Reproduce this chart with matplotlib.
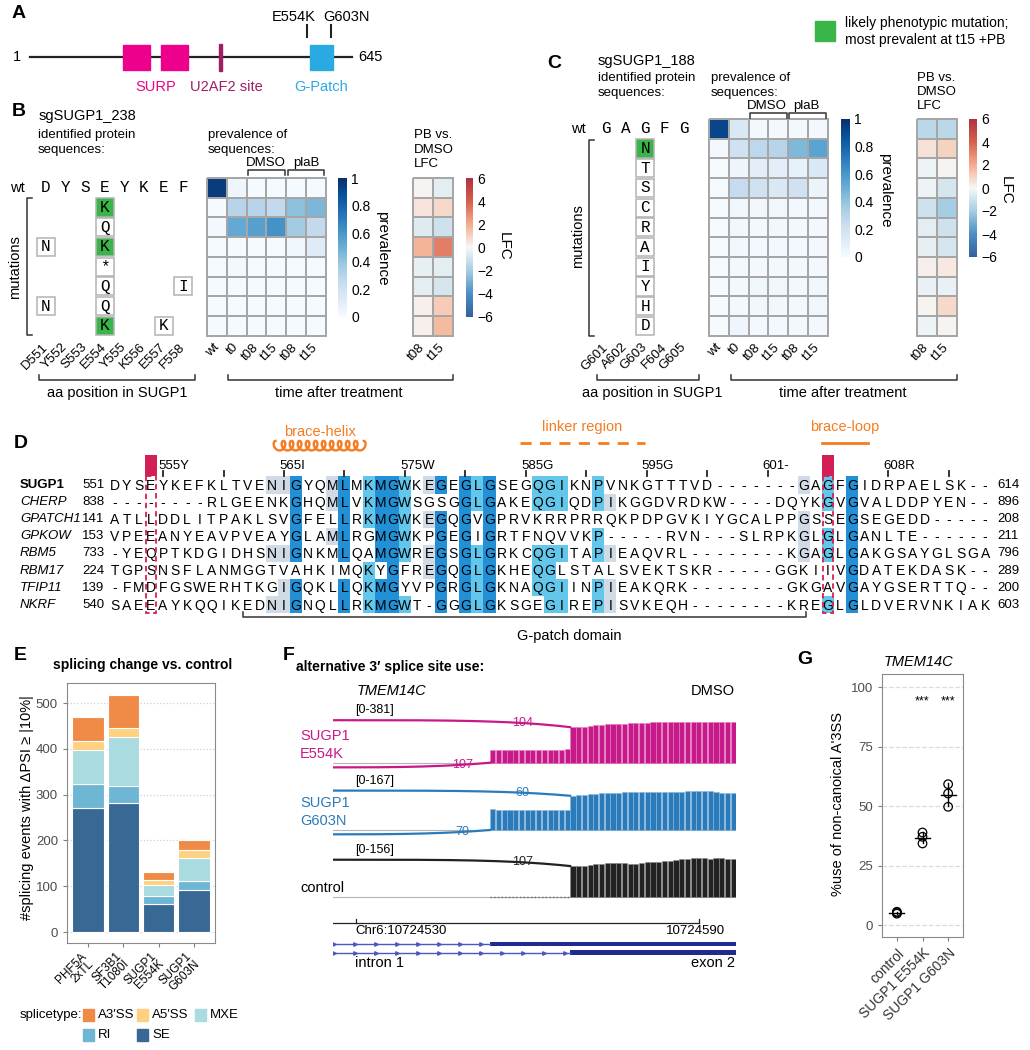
import numpy as np
import matplotlib.pyplot as plt
from matplotlib.patches import Rectangle
from matplotlib.colors import LinearSegmentedColormap, Normalize
from matplotlib.cm import ScalarMappable

plt.rcParams['font.family'] = ['Liberation Sans', 'DejaVu Sans']

# ------------------------------------------------------------------ data
# A: SUGP1 protein map (aa positions)
prot_len = 645
surp_domains = [(187, 241), (263, 317)]
u2af2_site = (379, 385)
gpatch_domain = (561, 607)
mut_sites = [554, 603]
mut_names = ['E554K', 'G603N']

# B: sgSUGP1_238
b_wt = list('DYSEYKEF')
b_pos = ['D551', 'Y552', 'S553', 'E554', 'Y555', 'K556', 'E557', 'F558']
b_mut = [{3: 'K'}, {3: 'Q'}, {0: 'N', 3: 'K'}, {3: '*'}, {3: 'Q', 7: 'I'},
         {0: 'N', 3: 'Q'}, {3: 'K', 6: 'K'}]
b_green = [(0, 3), (2, 3), (6, 3)]
times = ['wt', 't0', 't08', 't15', 't08', 't15']
lfc_times = ['t08', 't15']
b_prev = np.array([
    [0.95, 0.05, 0.01, 0.01, 0.01, 0.01],
    [0.01, 0.30, 0.30, 0.26, 0.42, 0.46],
    [0.02, 0.52, 0.56, 0.62, 0.36, 0.26],
    [0.01, 0.01, 0.01, 0.01, 0.04, 0.12],
    [0.01, 0.02, 0.01, 0.01, 0.01, 0.01],
    [0.01, 0.01, 0.01, 0.01, 0.01, 0.01],
    [0.01, 0.01, 0.01, 0.01, 0.01, 0.01],
    [0.01, 0.01, 0.01, 0.01, 0.01, 0.01]])
b_lfc = np.array([[0.1, -0.5], [0.5, 0.8], [-0.6, -1.0], [1.8, 3.2],
                  [-0.4, -0.5], [-0.5, -0.8], [0.2, 1.2], [0.2, 1.6]])

# C: sgSUGP1_188
c_wt = list('GAGFG')
c_pos = ['G601', 'A602', 'G603', 'F604', 'G605']
c_mut_col = 2
c_mut = list('NTSCRAIYHD')
c_green = [(0, 2)]
c_prev = np.array([
    [0.92, 0.15, 0.02, 0.02, 0.02, 0.02],
    [0.02, 0.20, 0.28, 0.30, 0.45, 0.55],
    [0.01, 0.05, 0.10, 0.10, 0.08, 0.15],
    [0.01, 0.25, 0.20, 0.15, 0.20, 0.06],
    [0.01, 0.04, 0.03, 0.04, 0.02, 0.02],
    [0.01, 0.03, 0.02, 0.03, 0.02, 0.02],
    [0.01, 0.03, 0.02, 0.02, 0.02, 0.02],
    [0.01, 0.02, 0.02, 0.02, 0.02, 0.02],
    [0.01, 0.02, 0.04, 0.04, 0.02, 0.04],
    [0.01, 0.02, 0.03, 0.03, 0.02, 0.04],
    [0.01, 0.05, 0.02, 0.02, 0.02, 0.02]])
c_lfc = np.array([[-1.5, -1.5], [0.6, 1.0], [-0.2, 0.1], [-0.2, -0.8],
                  [-1.0, -2.0], [-0.5, -1.0], [-0.4, -0.8], [0.2, 0.4],
                  [-0.3, -0.3], [0.1, 0.8], [-0.2, 0.1]])

# D: G-patch alignment
aln_names = ['SUGP1', 'CHERP', 'GPATCH1', 'GPKOW', 'RBM5', 'RBM17', 'TFIP11', 'NKRF']
aln_start = [551, 838, 141, 153, 733, 224, 139, 540]
aln_end = [614, 896, 208, 211, 796, 289, 200, 603]
aln_seqs = [
    'DYSEYKEFKLTVENIGYQMLMKMGWKEGEGLGSEGQGIKNPVNKGTTTVD-------GAGFGIDRPAELSK--',
    '--------RLGEENKGHQMLVKMGWSGSGGLGAKEQGIQDPIKGGDVRDKW----DQYKGVGVALDDPYEN--',
    'ATLLDDLITPAKLSVGFELLRKMGWKEGQGVGPRVKRRPRRQKPDPGVKIYGCALPPGSSEGSEGEDD-----',
    'VPEEANYEAVPVEAYGLAMLRGMGWKPGEGIGRTFNQVVKP-----RVN---SLRPKGLGLGANLTE------',
    '-YEQPTKDGIDHSNIGNKMLQAMGWREGSGLGRKCQGITAPIEAQVRL--------KGAGLGAKGSAYGLSGA',
    'TGPSNSFLANMGGTVAHKIMQKYGFREGQGLGKHEQGLSTALSVEKTSKR-----GGKIIVGDATEKDASK--',
    '-FMDFGSWERHTKGIGQKLLQKMGYVPGRGLGKNAQGIINPIEAKQRK--------GKGAVGAYGSERTTQ--',
    'SAEEAYKQQIKEDNIGNQLLRKMGWT-GGGLGKSGEGIREPISVKEQH--------KREGLGLDVERVNKIAK']
ruler_cols = [5, 15, 25, 35, 45, 55, 65]
ruler_labels = ['555Y', '565I', '575W', '585G', '595G', '601-', '608R']
minor_cols = [10, 20, 30, 40, 50, 60, 70]
aln_dark = {16: [0, 1, 2, 3, 4, 6, 7], 20: [0, 1, 2, 3, 4, 6, 7],
            23: [0, 1, 2, 3, 4, 6, 7], 24: list(range(8)),
            28: [0, 2, 3, 4, 5, 6, 7], 30: list(range(8)), 32: list(range(8)),
            62: list(range(8))}
aln_mid = {22: [0, 1, 2, 5, 6, 7], 25: [0, 1, 2, 3, 4, 7], 31: [0, 1, 4, 5, 6, 7],
           36: [0, 1, 4, 5, 6], 37: [0, 1, 4, 5, 6, 7], 38: [0, 1, 4, 6, 7],
           41: [0, 1, 3, 4, 6, 7], 60: [0, 1, 3, 4, 7]}
aln_grey = {14: [0, 4, 7], 15: [0, 4, 6, 7], 19: [0, 1, 3], 27: [0, 2, 4, 5],
            42: [1, 4, 6, 7], 58: [0, 2, 3, 4]}
aln_mut_cols = [4, 60]

# E: splicing events
e_groups = ['PHF5A\n2xTL', 'SF3B1\nT1080I', 'SUGP1\nE554K', 'SUGP1\nG603N']
e_se = [272, 282, 62, 92]
e_ri = [52, 36, 16, 20]
e_mxe = [74, 108, 25, 49]
e_a5 = [19, 19, 10, 18]
e_a3 = [53, 72, 19, 21]
e_types = ['SE', 'RI', 'MXE', 'A5\u2032SS', 'A3\u2032SS']
e_colors = ['#386894', '#6db7d5', '#a9dbe0', '#fdd17e', '#f08b47']

# F: sashimi of TMEM14C
reg_start, reg_end = 10724526, 10724596.5
alt_site, can_site = 10724554, 10724568
cov_pos = np.arange(alt_site, 10724597)
cov_e554k = [100, 100, 101, 101, 102, 103, 103, 104, 104, 105, 105, 106, 107, 108,
             290, 292, 295, 300, 305, 308, 312, 315, 316, 318, 320, 322, 325, 326,
             328, 330, 332, 334, 334, 334, 333, 332, 332, 330, 330, 330, 330, 330, 330]
cov_g603n = [82, 78, 78, 78, 78, 78, 78, 78, 78, 78, 78, 78, 78, 78,
             132, 134, 136, 138, 140, 141, 142, 143, 144, 145, 145, 146, 146, 147,
             147, 147, 147, 147, 148, 148, 149, 149, 150, 152, 150, 146, 143, 143, 143]
cov_ctrl = [0, 0, 0, 0, 0, 0, 0, 0, 0, 0, 0, 0, 0, 0,
            118, 118, 119, 121, 124, 127, 130, 131, 131, 128, 126, 127, 130, 133,
            134, 135, 136, 138, 141, 144, 146, 147, 147, 147, 146, 148, 147, 144, 146]
track_range = [381, 167, 156]
junc_canon = [104, 60, 107]
junc_alt = [107, 70, 0]
track_names = ['SUGP1\nE554K', 'SUGP1\nG603N', 'control']
ruler_ticks = [10724530, 10724590]

# G: % non-canonical A3'SS
g_groups = ['control', 'SUGP1 E554K', 'SUGP1 G603N']
g_vals = [[5.3, 4.8, 5.6], [38.9, 37.1, 34.3], [59.2, 55.3, 49.7]]
g_signif = ['', '***', '***']

# ------------------------------------------------------------------ layout
W, H = 1030, 1050
fig = plt.figure(figsize=(W / 100, H / 100), dpi=100)


def px_ax(x0, y0, x1, y1):
    return fig.add_axes([x0 / W, 1 - y1 / H, (x1 - x0) / W, (y1 - y0) / H])


ov = px_ax(0, 0, W, H)
ov.set_xlim(0, W)
ov.set_ylim(H, 0)
ov.axis('off')
ov.set_zorder(10)
ov.patch.set_visible(False)

GREEN = '#3ab54a'
ORANGE = '#f57c20'
MAG = '#c8198a'
BLUE = '#2b7bba'
LK = '#333333'


def bracket_h(x0, x1, y, d):
    ov.plot([x0, x0, x1, x1], [y + d, y, y, y + d], color=LK, lw=1.1)


def bracket_v(x, y0, y1, d):
    ov.plot([x + d, x, x, x + d], [y0, y0, y1, y1], color=LK, lw=1.1)


def panel_letter(x, y, s):
    ov.text(x, y, s, fontsize=14, fontweight='bold', va='center', ha='left')


# ---------------- A
ax_a = px_ax(0, 0, 520, 100)
ax_a.set_xlim(1 - 60, 1 + 980)
ax_a.set_ylim(100, 0)
ax_a.axis('off')
ax_a.plot([1, prot_len], [57, 57], color='#222222', lw=1.6, zorder=1)
for a0, a1 in surp_domains:
    ax_a.add_patch(Rectangle((a0, 45), a1 - a0, 25, color='#ec008c', zorder=2))
ax_a.add_patch(Rectangle((u2af2_site[0], 44), u2af2_site[1] - u2af2_site[0], 27,
                         color='#9e1f63', zorder=2))
ax_a.add_patch(Rectangle((gpatch_domain[0], 45), gpatch_domain[1] - gpatch_domain[0], 25,
                         color='#29abe2', zorder=2))
for s in mut_sites:
    ax_a.plot([s, s], [25, 37], color='#222222', lw=1.5)
ax_a.text(mut_sites[0] + 18, 17, mut_names[0], ha='right', va='center', fontsize=10.5)
ax_a.text(mut_sites[1] - 16, 17, mut_names[1], ha='left', va='center', fontsize=10.5)
ax_a.text(1 - 18, 57, '1', ha='right', va='center', fontsize=10.5)
ax_a.text(prot_len + 12, 57, str(prot_len), ha='left', va='center', fontsize=10.5)
ax_a.text((surp_domains[0][0] + surp_domains[1][1]) / 2, 87, 'SURP', color='#ec008c',
          ha='center', va='center', fontsize=10.5)
ax_a.text(sum(u2af2_site) / 2 + 12, 87, 'U2AF2 site', color='#9e1f63',
          ha='center', va='center', fontsize=10.5)
ax_a.text(sum(gpatch_domain) / 2, 87, 'G-Patch', color='#29abe2',
          ha='center', va='center', fontsize=10.5)
panel_letter(12, 14, 'A')

# legend for green
ov.add_patch(Rectangle((815, 21), 20, 20, color=GREEN))
ov.text(845, 23, 'likely phenotypic mutation;', va='center', fontsize=10)
ov.text(845, 40, 'most prevalent at t15 +PB', va='center', fontsize=10)

# ---------------- heatmap helpers
blues = plt.get_cmap('Blues')
lfc_cmap = LinearSegmentedColormap.from_list(
    'lfc', ['#35609f', '#4b8ec4', '#a5cde3', '#f7f7f7', '#f5ad8d', '#d6604d', '#b2303f'])


def heat(ax, data, cmap, vmin, vmax, labels):
    nr, nc = data.shape
    m = ax.pcolormesh(np.arange(nc + 1) - 0.5, np.arange(nr + 1) - 0.5, data, cmap=cmap,
                      vmin=vmin, vmax=vmax, edgecolors='#a6a6a6', linewidth=1.3)
    m.set_clip_on(False)
    ax.set_xlim(-0.5, nc - 0.5)
    ax.set_ylim(nr - 0.5, -0.5)
    ax.set_xticks(range(nc))
    ax.set_xticklabels(labels, rotation=45, ha='right', va='center',
                       rotation_mode='anchor', fontsize=9.5)
    ax.set_yticks([])
    ax.tick_params(length=0, pad=7)
    for sp in ax.spines.values():
        sp.set_visible(False)


def cbar(cax, cmap, vmin, vmax, ticks, labels):
    cb = fig.colorbar(ScalarMappable(Normalize(vmin, vmax), cmap), cax=cax, ticks=ticks)
    cb.outline.set_visible(False)
    cb.ax.tick_params(length=0, labelsize=10, pad=3)
    cb.ax.set_yticklabels(labels)


def seq_grid(ax, wt, pos, muts, green):
    n = len(wt)
    ax.set_xlim(-0.5, n - 0.5)
    ax.set_ylim(len(muts) + 0.5, -0.5)
    for i, aa in enumerate(wt):
        ax.text(i, 0, aa, ha='center', va='center', fontsize=11.5, family='Liberation Mono')
    for j, row in enumerate(muts):
        for i, aa in row.items():
            fc = GREEN if (j, i) in green else 'white'
            ax.add_patch(Rectangle((i - 0.46, j + 1 - 0.46), 0.92, 0.92, facecolor=fc,
                                   edgecolor='#b3b3b3', lw=1.1))
            ax.text(i, j + 1, aa, ha='center', va='center', fontsize=11.5,
                    family='Liberation Mono')
    ax.set_xticks(range(n))
    ax.set_xticklabels(pos, rotation=45, ha='right', va='center',
                       rotation_mode='anchor', fontsize=9.5)
    ax.set_yticks([])
    ax.tick_params(length=0, pad=7)
    for sp in ax.spines.values():
        sp.set_visible(False)
    ax.patch.set_visible(False)


prev_ticks = [0, 0.2, 0.4, 0.6, 0.8, 1]
prev_labels = ['0', '0.2', '0.4', '0.6', '0.8', '1']
lfc_ticks = [-6, -4, -2, 0, 2, 4, 6]
lfc_labels = ['\u22126', '\u22124', '\u22122', '0', '2', '4', '6']

# ---------------- B
panel_letter(12, 112, 'B')
ov.text(39, 116, 'sgSUGP1_238', fontsize=10.5, va='center')
ov.text(38, 135, 'identified protein', fontsize=9.5, va='center')
ov.text(38, 150, 'sequences:', fontsize=9.5, va='center')
ov.text(208, 135, 'prevalence of', fontsize=9.5, va='center')
ov.text(208, 150, 'sequences:', fontsize=9.5, va='center')
ov.text(414, 135, 'PB vs.', fontsize=9.5, va='center')
ov.text(414, 150, 'DMSO', fontsize=9.5, va='center')
ov.text(414, 164, 'LFC', fontsize=9.5, va='center')
ov.text(17, 187.5, 'wt', fontsize=10.5, ha='center', va='center')

seq_grid(px_ax(36.2, 178, 193, 335.6), b_wt, b_pos, b_mut, b_green)
heat(px_ax(207, 178, 325.5, 335.6), b_prev, blues, 0, 1, times)
heat(px_ax(413, 178, 452.5, 335.6), b_lfc, lfc_cmap, -6, 6, lfc_times)
cbar(px_ax(338, 178, 347, 317), blues, 0, 1, prev_ticks, prev_labels)
cbar(px_ax(466, 178, 473, 317), lfc_cmap, -6, 6, lfc_ticks, lfc_labels)
ov.text(382, 248, 'prevalence', rotation=270, ha='center', va='center', fontsize=11)
ov.text(504, 246, 'LFC', rotation=270, ha='center', va='center', fontsize=11)
bracket_h(248, 285, 170, 5)
bracket_h(288, 324, 170, 5)
ov.text(266, 163, 'DMSO', ha='center', va='center', fontsize=9.5)
ov.text(306, 163, 'plaB', ha='center', va='center', fontsize=9.5)
bracket_v(27, 198, 335, 5)
ov.text(15, 267, 'mutations', rotation=90, ha='center', va='center', fontsize=10.5)
bracket_h(39, 195, 380, -5)
bracket_h(228, 453, 380, -5)
ov.text(117, 393, 'aa position in SUGP1', ha='center', va='center', fontsize=10.5)
ov.text(339, 393, 'time after treatment', ha='center', va='center', fontsize=10.5)

# ---------------- C
panel_letter(547, 63, 'C')
ov.text(598, 61, 'sgSUGP1_188', fontsize=10.5, va='center')
ov.text(598, 78, 'identified protein', fontsize=9.5, va='center')
ov.text(598, 93, 'sequences:', fontsize=9.5, va='center')
ov.text(711, 78, 'prevalence of', fontsize=9.5, va='center')
ov.text(711, 93, 'sequences:', fontsize=9.5, va='center')
ov.text(917, 78, 'PB vs.', fontsize=9.5, va='center')
ov.text(917, 92, 'DMSO', fontsize=9.5, va='center')
ov.text(917, 106, 'LFC', fontsize=9.5, va='center')
ov.text(578, 129, 'wt', fontsize=10.5, ha='center', va='center')

c_mut_rows = [{c_mut_col: aa} for aa in c_mut]
seq_grid(px_ax(596.2, 119, 694.2, 335.7), c_wt, c_pos, c_mut_rows, c_green)
heat(px_ax(709, 119, 827.5, 335.7), c_prev, blues, 0, 1, times)
heat(px_ax(917, 119, 956.5, 335.7), c_lfc, lfc_cmap, -6, 6, lfc_times)
cbar(px_ax(841, 119, 850, 257), blues, 0, 1, prev_ticks, prev_labels)
cbar(px_ax(969, 119, 977, 257), lfc_cmap, -6, 6, lfc_ticks, lfc_labels)
ov.text(885, 190, 'prevalence', rotation=270, ha='center', va='center', fontsize=11)
ov.text(1006, 190, 'LFC', rotation=270, ha='center', va='center', fontsize=11)
bracket_h(750, 787, 113, 5)
bracket_h(789, 826, 113, 5)
ov.text(767, 106, 'DMSO', ha='center', va='center', fontsize=9.5)
ov.text(806, 106, 'plaB', ha='center', va='center', fontsize=9.5)
bracket_v(589, 140, 336, 5)
ov.text(578, 236, 'mutations', rotation=90, ha='center', va='center', fontsize=10.5)
bracket_h(597, 699, 380, -5)
bracket_h(731, 957, 380, -5)
ov.text(652, 393, 'aa position in SUGP1', ha='center', va='center', fontsize=10.5)
ov.text(843, 393, 'time after treatment', ha='center', va='center', fontsize=10.5)

# ---------------- D
panel_letter(14, 444, 'D')
COLW, ROWH, C1X, R0Y = 12.09, 17.1, 114.7, 485.0
ax_d = px_ax(0, 420, W, 645)
ax_d.set_xlim(1 - C1X / COLW, 1 + (W - C1X) / COLW)
ax_d.set_ylim((645 - R0Y) / ROWH, (420 - R0Y) / ROWH)
ax_d.axis('off')
for lvl, col in [(aln_grey, '#d0dbe6'), (aln_mid, '#62c7ea'), (aln_dark, '#2290d6')]:
    for c, rows in lvl.items():
        for r in rows:
            ax_d.add_patch(Rectangle((c - 0.5, r - 0.5), 1, 1, color=col, lw=0, zorder=1))
for r, seq in enumerate(aln_seqs):
    for c, aa in enumerate(seq, start=1):
        ax_d.text(c, r + 0.05, aa, ha='center', va='center', fontsize=10, zorder=3)
    y = R0Y + r * ROWH
    ov.text(20, y, aln_names[r], fontsize=9.5, va='center',
            fontweight='bold' if r == 0 else 'normal',
            style='normal' if r == 0 else 'italic')
    ov.text(82, y, str(aln_start[r]), fontsize=9.5, va='center')
    ov.text(997, y, str(aln_end[r]), fontsize=9.5, va='center')
for c in aln_mut_cols:
    ax_d.add_patch(Rectangle((c - 0.42, -0.5), 0.84, len(aln_seqs), fill=False,
                             edgecolor='#d8204f', lw=1.3, ls=(0, (3, 2)), zorder=4))
    ax_d.add_patch(Rectangle((c - 0.5, -1.75), 1.0, 1.25, color='#d21f55', lw=0, zorder=4))
for c, lab in zip(ruler_cols, ruler_labels):
    ax_d.plot([c, c], [-0.82, -0.55], color='#222222', lw=1.3)
    ax_d.text(c - 0.4, -1.12, lab, ha='left', va='center', fontsize=9.5)
for c in minor_cols:
    ax_d.plot([c, c], [-0.82, -0.55], color='#222222', lw=1.3)
# secondary-structure annotations
tt = np.linspace(0, 2 * np.pi * 11, 1500)
hx0, hx1 = 14.3, 21.6
ax_d.plot(hx0 + (hx1 - hx0) * tt / tt[-1] - 0.3 * np.sin(tt), -2.3 - 0.28 * np.cos(tt),
          color=ORANGE, lw=1.7)
ax_d.text((hx0 + hx1) / 2, -3.1, 'brace-helix', color=ORANGE, ha='center', va='center',
          fontsize=10.5)
ax_d.plot([34.5, 44.9], [-2.45, -2.45], color=ORANGE, lw=2, ls=(0, (4, 3)))
ax_d.text(39.7, -3.4, 'linker region', color=ORANGE, ha='center', va='center',
          fontsize=10.5)
ax_d.plot([59.5, 63.3], [-2.45, -2.45], color=ORANGE, lw=2)
ax_d.text(61.4, -3.4, 'brace-loop', color=ORANGE, ha='center', va='center',
          fontsize=10.5)
# G-patch bracket
bracket_h(243, 806, 617, -5)
ov.text(569, 636, 'G-patch domain', ha='center', va='center', fontsize=10.5)

# ---------------- E
panel_letter(14, 655, 'E')
ov.text(143, 665, 'splicing change vs. control', ha='center', va='center',
        fontsize=10, fontweight='bold')
ax_e = px_ax(67, 683, 215, 943)
x_e = np.arange(1, len(e_groups) + 1)
bottom = np.zeros(len(e_groups))
for vals, col in zip([e_se, e_ri, e_mxe, e_a5, e_a3], e_colors):
    ax_e.bar(x_e, vals, bottom=bottom, width=0.9, color=col, edgecolor='white',
             linewidth=0.8, zorder=2)
    bottom += np.array(vals)
ax_e.set_xlim(0.4, 4.6)
ax_e.set_ylim(-24, 544)
ax_e.set_yticks([0, 100, 200, 300, 400, 500])
ax_e.set_xticks(x_e)
ax_e.set_xticklabels(e_groups, rotation=45, ha='right', va='center', rotation_mode='anchor',
                     fontsize=8.5, linespacing=0.85)
ax_e.grid(axis='y', color='#d0d0d0', ls=':', lw=0.9, zorder=0)
ax_e.tick_params(axis='y', labelsize=9.5, labelcolor='#4d4d4d', color='#7f7f7f', length=3)
ax_e.tick_params(axis='x', color='#7f7f7f', length=3, pad=8)
for sp in ax_e.spines.values():
    sp.set_color('#8a8a8a')
ov.text(27, 808, '#splicing events with \u0394PSI \u2265 |10%|', rotation=90,
        ha='center', va='center', fontsize=10.5)
# legend
ov.text(20, 1015, 'splicetype:', va='center', fontsize=9.5)
leg_pos = {'A3\u2032SS': (83, 1015), 'A5\u2032SS': (137, 1015), 'MXE': (195, 1015),
           'RI': (83, 1035), 'SE': (137, 1035)}
for name, col in zip(e_types, e_colors):
    lx, ly = leg_pos[name]
    ov.add_patch(Rectangle((lx, ly - 6), 11, 12, color=col))
    ov.text(lx + 15, ly, name, va='center', fontsize=9.5)

# ---------------- F
panel_letter(283, 656, 'F')
ov.text(296, 667, 'alternative 3\u2032 splice site use:', va='center', fontsize=10,
        fontweight='bold')
ov.text(357, 691, 'TMEM14C', va='center', fontsize=10.5, style='italic')
ov.text(735, 691, 'DMSO', va='center', ha='right', fontsize=10.5)
covs = [cov_e554k, cov_g603n, cov_ctrl]
tcol = [MAG, BLUE, '#222222']
tedge = ['#e27cbe', '#86b9e0', '#8a8a8a']
track_px = [(716, 762.7, 706, 772), (786.7, 830, 778, 842), (856, 897.3, 848, 902)]
lab_px = [(300, 745), (300, 812), (300, 888)]
s = np.linspace(0, 1, 300)
up_lab_x, low_lab_x = 10724559.2, 10724548.7
for k in range(3):
    top, base, a_top, a_bot = track_px[k]
    rng = track_range[k]
    ax = px_ax(332.7, a_top, 736, a_bot)
    sc = (base - top) / rng
    ax.set_ylim(-(a_bot - base) / sc, rng + (top - a_top) / sc)
    ax.set_xlim(reg_start, reg_end)
    ax.axis('off')
    cov = np.array(covs[k])
    ax.plot([reg_start, reg_end], [0, 0], color='#b5b5b5', lw=0.8, zorder=1)
    if cov[0] == 0:
        ax.plot([alt_site - 0.5, can_site - 0.5], [0, 0], color='#555555', lw=1, ls=':')
    ax.bar(cov_pos, cov, width=0.9, color=tcol[k], edgecolor=tedge[k], linewidth=0.4,
           zorder=2)
    x1 = can_site - 0.5
    y0, y1 = 0.91 * rng, cov[can_site - alt_site]
    ax.plot(reg_start + s * (x1 - reg_start), y1 + (y0 - y1) * (1 - s ** 4),
            color=tcol[k], lw=1.6, zorder=3)
    sl = (up_lab_x - reg_start) / (x1 - reg_start)
    ax.text(up_lab_x, y1 + (y0 - y1) * (1 - sl ** 4), str(junc_canon[k]), color=tcol[k],
            ha='center', va='center', fontsize=9, zorder=4)
    if junc_alt[k] > 0:
        x2 = alt_site - 0.5
        ax.plot(reg_start + s * (x2 - reg_start), -0.1 * rng * (1 - s ** 3),
                color=tcol[k], lw=1.6, zorder=3)
        sl = (low_lab_x - reg_start) / (x2 - reg_start)
        ax.text(low_lab_x, -0.1 * rng * (1 - sl ** 3), str(junc_alt[k]), color=tcol[k],
                ha='center', va='center', fontsize=9, zorder=4)
    ov.text(355, top - 6, '[0-%d]' % rng, fontsize=9, va='center')
    ov.text(lab_px[k][0], lab_px[k][1], track_names[k], color=tcol[k] if k < 2 else 'k',
            fontsize=10.5, va='center', linespacing=1.3)

ax_gm = px_ax(332.7, 915, 736, 970)
ax_gm.set_xlim(reg_start, reg_end)
ax_gm.set_ylim(970, 915)
ax_gm.axis('off')
ax_gm.plot([reg_start, ruler_ticks[1]], [923, 923], color='#222222', lw=0.9)
for t in ruler_ticks:
    ax_gm.plot([t, t], [923, 919], color='#222222', lw=0.9)
ov.text(355, 931, 'Chr6:%d' % ruler_ticks[0], fontsize=9.5, va='center')
ov.text(696, 931, '%d' % ruler_ticks[1], fontsize=9.5, va='center', ha='center')
for site, yy in [(alt_site, 944), (can_site, 952.7)]:
    ax_gm.plot([reg_start, site - 0.5], [yy, yy], color='#4a58c0', lw=1)
    chev = np.arange(reg_start + 0.3, site - 1, 3.67)
    ax_gm.plot(chev, np.full(len(chev), yy), ls='none', marker='>', ms=2.5,
               color='#4a58c0')
    ax_gm.add_patch(Rectangle((site - 0.5, yy - 2.3), reg_end - site + 0.5, 4.6,
                              color='#1f2b8f', lw=0))
ov.text(355, 963, 'intron 1', fontsize=10.5, va='center')
ov.text(735, 963, 'exon 2', fontsize=10.5, va='center', ha='right')

# ---------------- G
panel_letter(797, 659, 'G')
ov.text(919, 662, 'TMEM14C', ha='center', va='center', fontsize=10.5, style='italic')
ax_g = px_ax(882, 674, 963, 937)
for i, vals in enumerate(g_vals, start=1):
    vals = np.array(vals)
    m, sd = vals.mean(), vals.std(ddof=1)
    ax_g.plot([i, i], [m - sd, m + sd], color='k', lw=1, zorder=3)
    ax_g.plot([i - 0.29, i + 0.29], [m, m], color='k', lw=1, zorder=3)
    ax_g.scatter(np.full(len(vals), i), vals, s=38, facecolors='none', edgecolors='k',
                 linewidths=0.9, zorder=4)
    if g_signif[i - 1]:
        ax_g.text(i, 94, g_signif[i - 1], ha='center', va='center', fontsize=9)
ax_g.set_xlim(0.42, 3.58)
ax_g.set_ylim(-5, 105.5)
ax_g.set_yticks([0, 25, 50, 75, 100])
ax_g.set_xticks([1, 2, 3])
ax_g.set_xticklabels(g_groups, rotation=45, ha='right', va='top', rotation_mode='anchor',
                     fontsize=10, color='#333333')
ax_g.grid(axis='y', color='#dcdcdc', ls='--', lw=0.9, zorder=0)
ax_g.tick_params(axis='y', labelsize=9.5, labelcolor='#4d4d4d', color='#7f7f7f', length=3)
ax_g.tick_params(axis='x', color='#7f7f7f', length=3)
for sp in ax_g.spines.values():
    sp.set_color('#8a8a8a')
ov.text(838, 804, "%use of non-canoical A'3SS", rotation=90, ha='center', va='center',
        fontsize=10.5)

fig.savefig('out.png', dpi=100)
